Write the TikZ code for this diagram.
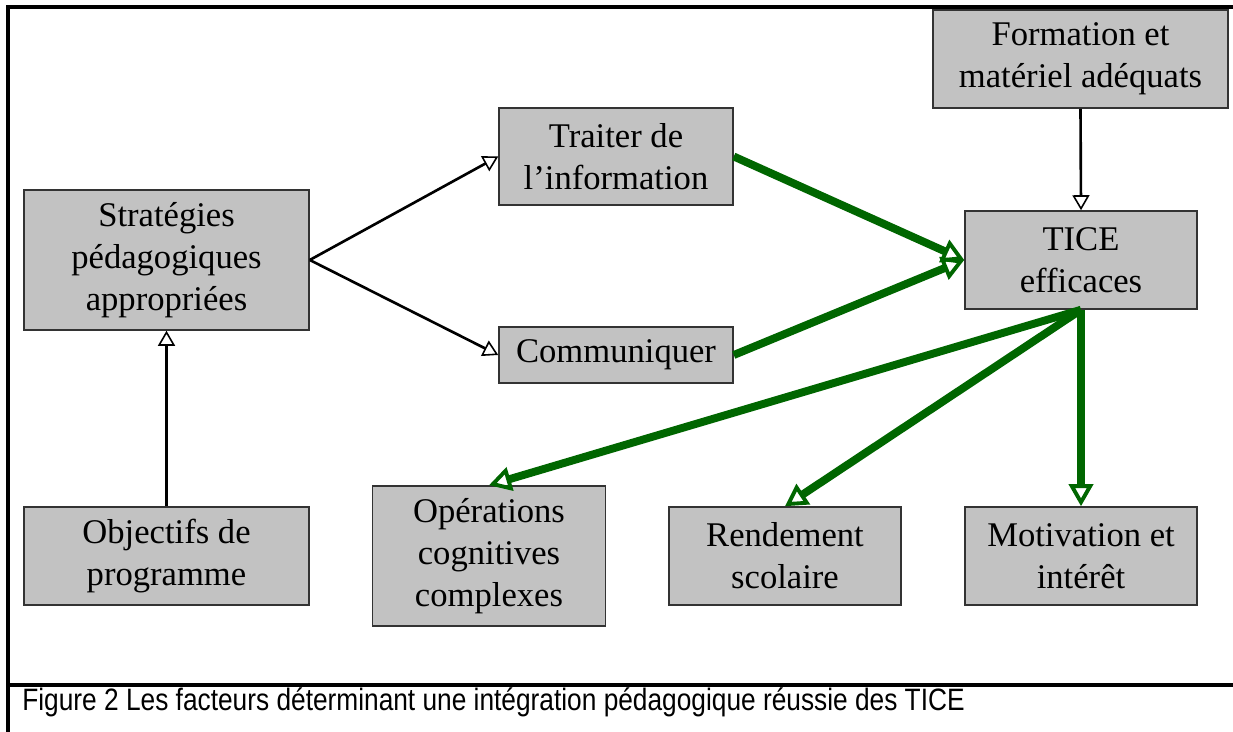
\documentclass[tikz,border=0pt]{standalone}
\usepackage{fontspec}
\setmainfont{Liberation Serif}
\newfontfamily\capfont[FakeStretch=0.85]{Liberation Sans}
\usetikzlibrary{arrows.meta}

\definecolor{boxgray}{RGB}{194,194,194}
\definecolor{ticegreen}{RGB}{0,102,0}

\tikzset{
  factor/.style={draw=black!80, line width=0.9pt, fill=boxgray, align=center,
                 inner sep=0pt, font=\fontsize{19.7}{23.9}\selectfont},
  thinarrow/.style={line width=1.5pt,
                 -{Triangle[open, length=0.3cm, width=0.34cm, line width=0.9pt]}},
  greenarrow/.style={ticegreen, line width=4.5pt,
                 -{Triangle[open, length=0.44cm, width=0.48cm, line width=2.2pt]}},
}

\begin{document}
\begin{tikzpicture}[x=0.02cm, y=-0.02cm]
\useasboundingbox (0,0) rectangle (1233,732);

\draw[line width=2pt] (8,732) -- (8,7) -- (1233,7);
\draw[line width=2pt] (8,685) -- (1233,685);
\node[anchor=base west, inner sep=0pt, font=\capfont\fontsize{17.6}{20}\selectfont]
  (caption) at (22,710)
  {Figure 2 Les facteurs déterminant une intégration pédagogique réussie des TICE};

\node[factor, minimum width=5.7cm, minimum height=2.8cm] (strat) at (166.5,260)
  {Stratégies\\pédagogiques\\appropriées};
\node[factor, minimum width=5.7cm, minimum height=1.96cm] (objectifs) at (166.5,556)
  {Objectifs de\\programme};
\node[factor, minimum width=4.68cm, minimum height=1.94cm] (traiter) at (616,156.5)
  {Traiter de\\l’information};
\node[factor, minimum width=4.68cm, minimum height=1.12cm] (communiquer) at (616,355)
  {Communiquer};
\node[factor, minimum width=5.9cm, minimum height=1.96cm] (formation) at (1080.5,59)
  {Formation et\\matériel adéquats};
\node[factor, minimum width=4.64cm, minimum height=1.96cm] (tice) at (1081,260)
  {TICE\\efficaces};
\node[factor, minimum width=4.66cm, minimum height=2.8cm] (operations) at (489,556)
  {Opérations\\cognitives\\complexes};
\node[factor, minimum width=4.64cm, minimum height=1.96cm] (rendement) at (785,556)
  {Rendement\\scolaire};
\node[factor, minimum width=4.64cm, minimum height=1.96cm] (motivation) at (1081,556)
  {Motivation et\\intérêt};

\draw[thinarrow] (objectifs.north) -- (strat.south);
\draw[thinarrow] (strat.east) -- (traiter.west);
\draw[thinarrow] (strat.east) -- (communiquer.west);
\draw[thinarrow] (formation.south) -- (tice.north);

\draw[greenarrow] (traiter.east) -- (tice.west);
\draw[greenarrow] (communiquer.east) -- (tice.west);
\draw[greenarrow] (tice.south) -- (operations.north);
\draw[greenarrow] (tice.south) -- (rendement.north);
\draw[greenarrow] (tice.south) -- (motivation.north);
\end{tikzpicture}
\end{document}
